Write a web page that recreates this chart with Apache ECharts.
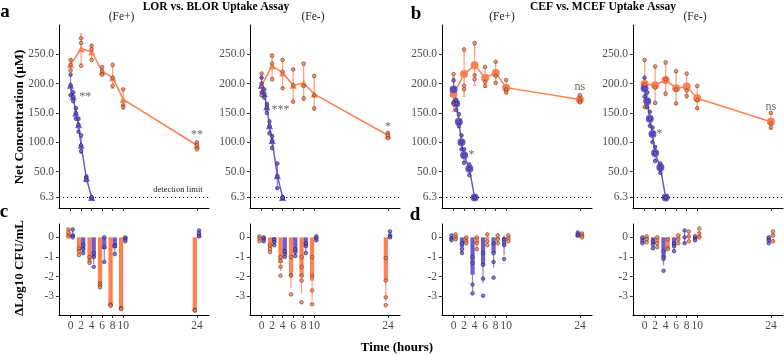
<!DOCTYPE html>
<html><head><meta charset="utf-8">
<script src="https://cdn.jsdelivr.net/npm/echarts@6/dist/echarts.min.js"></script>
<style>html,body{margin:0;padding:0;background:#fff}#c{width:784px;height:356px}</style>
</head><body><div id="c"></div>
<script>
// ---------- DATA ----------
const hoursMain = [0, 2, 4, 6, 8, 10, 24];
const hoursFast = [0, 0.5, 1, 1.5, 2, 3, 4];
const timeTicks = [0, 2, 4, 6, 8, 10, 24];
const concTicks = [6.3, 50, 100, 150, 200, 250];
const cfuTicks = [-3, -2, -1, 0];

// a: LOR vs BLOR, Fe+
const aFePlusOrangeMean = [232, 259, 254, 221, 210, 173, 95];
const aFePlusOrangeReps = [[240,232,222],[277,269,230],[264,258,240],[228,221,215],[232,210,196],[190,163,160],[100,95,88]];
const aFePlusPurpleMean = [197, 178, 150, 130, 95, 39, 6.3];
const aFePlusPurpleReps = [[215,197,180],[185,178,170],[158,150,140],[140,130,118],[112,95,85],[42,39,36],[6.3,6.3,6.3]];
// a: Fe-
const aFeMinusOrangeMean = [197, 230, 218, 197, 201, 182, 112];
const aFeMinusOrangeReps = [[217,196,180],[247,234,207],[240,220,192],[224,197,169],[234,196,175],[213,180,158],[116,112,107]];
const aFeMinusPurpleMean = [197, 183, 160, 128, 103, 43, 6.3];
const aFeMinusPurpleReps = [[210,200,185],[190,183,176],[165,160,150],[135,128,115],[110,103,90],[64,43,22],[6.3,6.3,6.3]];
// b: CEF vs MCEF, Fe+
const bFePlusOrangeMean = [182, 216, 231, 210, 218, 193, 173];
const bFePlusOrangeReps = [[216,166,165],[258,196,190],[269,214,207],[228,203,196],[237,213,201],[206,190,185],[180,172,168]];
const bFePlusPurpleMean = [190, 166, 135, 100, 78, 55, 6.3];
const bFePlusPurpleReps = [[205,190,168],[172,166,155],[148,135,128],[112,100,88],[88,78,65],[62,55,44],[6.3,6.3,6.3]];
// b: Fe-
const bFeMinusOrangeMean = [199, 197, 206, 192, 195, 175, 135];
const bFeMinusOrangeReps = [[240,198,160],[229,193,167],[236,207,183],[221,190,166],[217,188,179],[196,172,158],[150,132,125]];
const bFeMinusPurpleMean = [192, 170, 140, 114, 82, 57, 6.3];
const bFeMinusPurpleReps = [[210,192,178],[185,170,160],[152,140,128],[125,114,100],[92,82,68],[64,57,48],[6.3,6.3,6.3]];

// c: ΔLog10 CFU/mL, Fe+
const cFePlusOrangeMean = [0.25, -0.7, -1.15, -2.45, -3.45, -3.62, -3.71];
const cFePlusOrangeReps = [[0.4,0.25,0.05],[-0.56,-0.73,-0.9],[-1.0,-1.2,-1.3],[-2.35,-2.45,-2.55],[-3.42,-3.45,-3.48],[-3.6,-3.62,-3.65],[-3.7,-3.71,-3.72]];
const cFePlusPurpleMean = [0.15, -0.6, -1.0, -0.6, -0.55, -0.1, 0.2];
const cFePlusPurpleReps = [[0.4,0.1,0.0],[-0.4,-0.6,-0.8],[-0.8,-1.0,-1.5],[0.0,-0.5,-1.25],[-0.4,-0.45,-0.85],[0.0,-0.1,-0.2],[0.35,0.2,0.05]];
// c: Fe-
const cFeMinusOrangeMean = [-0.05, -0.55, -1.3, -1.8, -2.0, -2.2, -2.2];
const cFeMinusOrangeReps = [[0.05,-0.05,-0.2],[-0.4,-0.6,-0.75],[-1.0,-1.2,-1.5,-1.95],[-1.0,-1.9,-1.95,-2.9],[-1.0,-1.5,-1.95,-2.2,-3.3],[-1.0,-1.95,-2.7,-3.4],[-1.05,-2.2,-3.05,-3.45]];
const cFeMinusPurpleMean = [-0.1, -0.25, -0.85, -0.75, -0.45, -0.05, 0.1];
const cFeMinusPurpleReps = [[0.0,-0.1,-0.2],[-0.1,-0.25,-0.4],[-0.7,-0.85,-1.0],[-0.6,-0.75,-0.95],[-0.3,-0.45,-0.8],[0.05,-0.05,-0.15],[0.3,0.1,0.0]];
// d: Fe+
const dFePlusPurpleMean = [-0.05, -0.5, -1.9, -1.4, -0.8, -0.4, 0.15];
const dFePlusPurpleReps = [[0.1,-0.05,-0.15],[-0.3,-0.6,-0.8],[-1.0,-1.3,-2.4,-2.85],[-0.8,-1.4,-2.1,-2.97],[-0.3,-0.8,-1.25,-2.05],[-0.1,-0.4,-1.1],[0.25,0.15,0.1]];
const dFePlusOrangeMean = [0.0, -0.15, -0.3, -0.1, -0.1, -0.05, 0.1];
const dFePlusOrangeReps = [[0.15,0.0,-0.1],[0.0,-0.2,-0.3],[0.0,-0.3,-0.6],[0.15,-0.2,-0.4],[0.1,-0.1,-0.3],[0.1,-0.05,-0.2],[0.2,0.1,0.0]];
// d: Fe-
const dFeMinusPurpleMean = [-0.15, -0.35, -1.0, -0.45, 0.0, -0.05, -0.15];
const dFeMinusPurpleReps = [[0.0,-0.2,-0.3],[-0.2,-0.35,-0.55],[-0.7,-1.0,-1.1,-1.7],[-0.3,-0.45,-0.7],[0.35,0.0,-0.3],[0.05,-0.05,-0.15],[0.0,-0.15,-0.3]];
const dFeMinusOrangeMean = [-0.1, -0.25, -0.4, -0.1, 0.05, 0.1, 0.0];
const dFeMinusOrangeReps = [[0.05,-0.1,-0.25],[0.0,-0.3,-0.5],[-0.1,-0.5,-0.6],[0.1,-0.1,-0.3],[0.3,0.05,-0.2],[0.45,0.2,0.0],[0.3,0.1,-0.2]];

// significance labels [hour, concentration, text]
const annotA1 = [[2.8, 178, '**'], [24, 113, '**']];
const annotA2 = [[3.6, 155, '***'], [24, 126, '*']];
const annotB1 = [[3.4, 79, '*'], [24, 195, 'ns']];
const annotB2 = [[2.8, 115, '*'], [24, 161, 'ns']];

// ---------- STYLE / LAYOUT ----------
const ORANGE = '#FF7F50', PURPLE = '#6A5ACD';
const ORANGE_ERR = 'rgba(255,140,100,0.85)', PURPLE_ERR = 'rgba(120,105,215,0.85)';
const ORANGE_EDGE = '#6b3c2c', PURPLE_EDGE = '#2a2260';
const FONT = 'Liberation Serif';
const TIME_MIN = -2.2, TIME_MAX = 26.3;
const CONC_MIN = -11.7, CONC_MAX = 299.5;
const CFU_MIN = -3.95, CFU_MAX = 0.68;
const lefts = [59, 250, 442, 633];

function mean(a){return a.reduce((s,v)=>s+v,0)/a.length;}
function sd(a){const m=mean(a);return Math.sqrt(a.reduce((s,v)=>s+(v-m)*(v-m),0)/Math.max(1,a.length-1));}

const grids = [], xAxes = [], yAxes = [], series = [];
for (let i = 0; i < 4; i++) {
  grids.push({left: lefts[i], top: 25, width: 150, height: 183});
  grids.push({left: lefts[i], top: 224, width: 150, height: 91});
}
for (let g = 0; g < 8; g++) {
  const bottom = g % 2 === 1;
  xAxes.push({type:'value', gridIndex:g, min:TIME_MIN, max:TIME_MAX,
    axisLine:{show:true, onZero:false, lineStyle:{color:'#000', width:1}},
    axisTick:{show:true, customValues:timeTicks, length:3, lineStyle:{color:'#333'}},
    axisLabel:{show:bottom, customValues:timeTicks, fontFamily:FONT, fontSize:11.5, color:'#4d4d4d', margin:5},
    splitLine:{show:false}});
  yAxes.push({type:'value', gridIndex:g, min: bottom?CFU_MIN:CONC_MIN, max: bottom?CFU_MAX:CONC_MAX,
    axisLine:{show:true, onZero:false, lineStyle:{color:'#000', width:1}},
    axisTick:{show:true, customValues: bottom?cfuTicks:concTicks, length:3, lineStyle:{color:'#333'}},
    axisLabel:{customValues: bottom?cfuTicks:concTicks, fontFamily:FONT, fontSize:11.5, color:'#4d4d4d', margin:5,
      formatter: bottom ? (v=>String(v)) : (v=>v.toFixed(1))},
    splitLine:{show:false}});
}

function errSeries(g, xs, means, reps, color, cap, xoff) {
  return {type:'custom', xAxisIndex:g, yAxisIndex:g, silent:true, z:2,
    data: xs.map((x,i)=>[x + (xoff||0), means[i]-sd(reps[i]), means[i]+sd(reps[i])]),
    renderItem(params, api){
      const x = api.value(0);
      const lo = api.coord([x, api.value(1)]), hi = api.coord([x, api.value(2)]);
      const st = {stroke:color, lineWidth:1.2};
      return {type:'group', children:[
        {type:'line', shape:{x1:lo[0],y1:lo[1],x2:hi[0],y2:hi[1]}, style:st},
        {type:'line', shape:{x1:lo[0]-cap,y1:lo[1],x2:lo[0]+cap,y2:lo[1]}, style:st},
        {type:'line', shape:{x1:hi[0]-cap,y1:hi[1],x2:hi[0]+cap,y2:hi[1]}, style:st}
      ]};
    }};
}
function pointSeries(g, xs, reps, fill, edge, xoff) {
  const data = [];
  xs.forEach((x,i)=>reps[i].forEach(v=>data.push([x+(xoff||0), v])));
  return {type:'scatter', xAxisIndex:g, yAxisIndex:g, silent:true, z:5, symbol:'circle', symbolSize:3.6,
    itemStyle:{color:fill, borderColor:edge, borderWidth:0.8}, data};
}
function lineSeries(g, xs, means, color, symbol) {
  return {type:'line', xAxisIndex:g, yAxisIndex:g, silent:true, z:3, symbol, symbolSize: symbol==='triangle'?7:8,
    lineStyle:{color, width:1.5}, itemStyle:{color}, data: xs.map((x,i)=>[x, means[i]])};
}
function barSeries(g, xs, means, color, off0, off1) {
  return {type:'custom', xAxisIndex:g, yAxisIndex:g, silent:true, z:1,
    data: xs.map((x,i)=>[x, means[i]]),
    renderItem(params, api){
      const x = api.value(0), v = api.value(1);
      const p0 = api.coord([x+off0, 0]), p1 = api.coord([x+off1, v]);
      return {type:'rect', shape:{x:p0[0], y:Math.min(p0[1],p1[1]), width:p1[0]-p0[0], height:Math.abs(p1[1]-p0[1])},
        style:{fill:color}};
    }};
}
function annotSeries(g, arr) {
  return {type:'scatter', xAxisIndex:g, yAxisIndex:g, silent:true, z:6, symbolSize:1,
    itemStyle:{color:'rgba(0,0,0,0)'},
    label:{show:true, position:'inside', formatter:p=>p.data[2], fontFamily:FONT, fontSize:12, color:'#444'},
    data: arr};
}
function detectionLine(g) {
  return {type:'line', xAxisIndex:g, yAxisIndex:g, silent:true, data:[],
    markLine:{silent:true, symbol:'none', label:{show:false}, lineStyle:{color:'#000', type:[1.2,2.8], width:1},
      data:[{yAxis:6.3}]}};
}

const topPanels = [
  {oM:aFePlusOrangeMean, oR:aFePlusOrangeReps, pM:aFePlusPurpleMean, pR:aFePlusPurpleReps, sym:'triangle', ann:annotA1},
  {oM:aFeMinusOrangeMean, oR:aFeMinusOrangeReps, pM:aFeMinusPurpleMean, pR:aFeMinusPurpleReps, sym:'triangle', ann:annotA2},
  {oM:bFePlusOrangeMean, oR:bFePlusOrangeReps, pM:bFePlusPurpleMean, pR:bFePlusPurpleReps, sym:'circle', ann:annotB1},
  {oM:bFeMinusOrangeMean, oR:bFeMinusOrangeReps, pM:bFeMinusPurpleMean, pR:bFeMinusPurpleReps, sym:'circle', ann:annotB2}
];
const bottomPanels = [
  {oM:cFePlusOrangeMean, oR:cFePlusOrangeReps, pM:cFePlusPurpleMean, pR:cFePlusPurpleReps, orangeFirst:true},
  {oM:cFeMinusOrangeMean, oR:cFeMinusOrangeReps, pM:cFeMinusPurpleMean, pR:cFeMinusPurpleReps, orangeFirst:true},
  {oM:dFePlusOrangeMean, oR:dFePlusOrangeReps, pM:dFePlusPurpleMean, pR:dFePlusPurpleReps, orangeFirst:false},
  {oM:dFeMinusOrangeMean, oR:dFeMinusOrangeReps, pM:dFeMinusPurpleMean, pR:dFeMinusPurpleReps, orangeFirst:false}
];

topPanels.forEach((p, i) => {
  const g = 2*i;
  series.push(detectionLine(g));
  series.push(errSeries(g, hoursMain, p.oM, p.oR, ORANGE_ERR, 1.6));
  series.push(lineSeries(g, hoursMain, p.oM, ORANGE, p.sym));
  series.push(errSeries(g, hoursFast, p.pM, p.pR, PURPLE_ERR, 1.6));
  series.push(lineSeries(g, hoursFast, p.pM, PURPLE, p.sym));
  series.push(pointSeries(g, hoursMain, p.oR, ORANGE, ORANGE_EDGE));
  series.push(pointSeries(g, hoursFast, p.pR, PURPLE, PURPLE_EDGE));
  series.push(annotSeries(g, p.ann));
});
const BW = 0.8;
bottomPanels.forEach((p, i) => {
  const g = 2*i + 1;
  const oOff = p.orangeFirst ? -BW : 0, pOff = p.orangeFirst ? 0 : -BW;
  series.push(barSeries(g, hoursMain, p.oM, ORANGE, oOff, oOff+BW));
  series.push(barSeries(g, hoursMain, p.pM, PURPLE, pOff, pOff+BW));
  series.push(errSeries(g, hoursMain, p.oM, p.oR, ORANGE_ERR, 0, oOff+BW/2));
  series.push(errSeries(g, hoursMain, p.pM, p.pR, PURPLE_ERR, 0, pOff+BW/2));
  series.push(pointSeries(g, hoursMain, p.oR, ORANGE, ORANGE_EDGE, oOff+BW/2));
  series.push(pointSeries(g, hoursMain, p.pR, PURPLE, PURPLE_EDGE, pOff+BW/2));
});

function txt(x, y, text, opt) {
  return Object.assign({type:'text', x, y, style:Object.assign({text, fontFamily:FONT, fontSize:11.5, fill:'#000',
    textAlign:'center', textVerticalAlign:'middle'}, opt||{})});
}
const graphic = [
  txt(216, 7, 'LOR vs. BLOR Uptake Assay', {fontWeight:'bold', fontSize:11.5}),
  txt(603, 7, 'CEF vs. MCEF Uptake Assay', {fontWeight:'bold', fontSize:11.5}),
  txt(121.5, 17, '(Fe+)', {fill:'#222'}),
  txt(313, 17, '(Fe-)', {fill:'#222'}),
  txt(502, 17, '(Fe+)', {fill:'#222'}),
  txt(695, 17, '(Fe-)', {fill:'#222'}),
  txt(5, 12, 'a', {fontWeight:'bold', fontSize:19}),
  txt(416, 14, 'b', {fontWeight:'bold', fontSize:19}),
  txt(4, 212, 'c', {fontWeight:'bold', fontSize:19}),
  txt(415, 215, 'd', {fontWeight:'bold', fontSize:19}),
  txt(178, 190, 'detection limit', {fontSize:8.5, fill:'#222'}),
  txt(397, 348, 'Time (hours)', {fontWeight:'bold', fontSize:13}),
  {type:'text', x:20, y:117, rotation:Math.PI/2, style:{text:'Net Concentration (µM)', fontFamily:FONT, fontWeight:'bold', fontSize:13, fill:'#000', textAlign:'center', textVerticalAlign:'middle'}},
  {type:'text', x:20, y:268, rotation:Math.PI/2, style:{text:'ΔLog10 CFU/mL', fontFamily:FONT, fontWeight:'bold', fontSize:13, fill:'#000', textAlign:'center', textVerticalAlign:'middle'}}
];

const chart = echarts.init(document.getElementById('c'), null, {renderer:'canvas'});
chart.setOption({animation:false, backgroundColor:'#fff', grid:grids, xAxis:xAxes, yAxis:yAxes, series, graphic});
</script></body></html>
